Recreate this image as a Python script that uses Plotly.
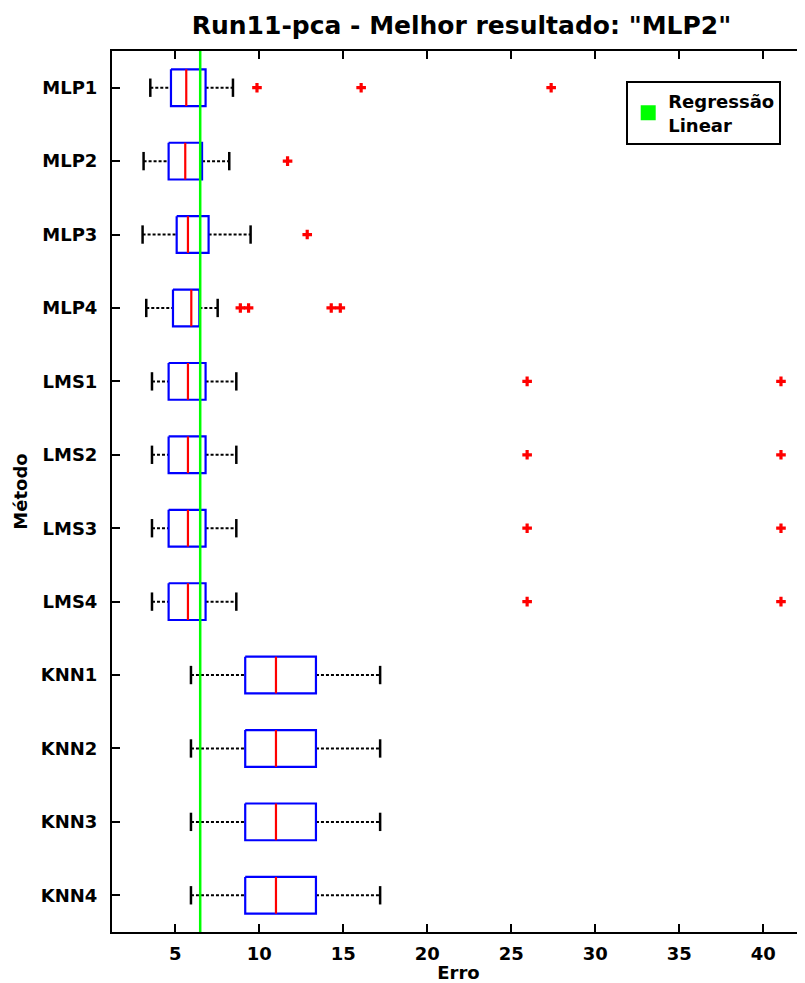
import plotly.graph_objects as go

# ------------------------------------------------------------------
# Data (values of "Erro")
# ------------------------------------------------------------------
methods = ["MLP1", "MLP2", "MLP3", "MLP4",
           "LMS1", "LMS2", "LMS3", "LMS4",
           "KNN1", "KNN2", "KNN3", "KNN4"]

whisker_lo = [3.51, 3.11, 3.05, 3.27, 3.61, 3.61, 3.61, 3.61, 5.93, 5.93, 5.93, 5.93]
q1         = [4.74, 4.60, 5.08, 4.86, 4.60, 4.60, 4.60, 4.60, 9.16, 9.16, 9.16, 9.16]
medians    = [5.65, 5.59, 5.75, 5.95, 5.75, 5.75, 5.75, 5.75, 10.99, 10.99, 10.99, 10.99]
q3         = [6.80, 6.59, 6.98, 6.43, 6.80, 6.80, 6.80, 6.80, 13.37, 13.37, 13.37, 13.37]
whisker_hi = [8.43, 8.21, 9.48, 7.52, 8.63, 8.63, 8.63, 8.63, 17.19, 17.19, 17.19, 17.19]

outliers = [
    [9.86, 16.06, 27.37],
    [11.68],
    [12.85],
    [8.87, 9.36, 14.28, 14.82],
    [25.94, 41.05],
    [25.94, 41.05],
    [25.94, 41.05],
    [25.94, 41.05],
    [], [], [], [],
]

linear_regression_err = 6.48

x_ticks = [5, 10, 15, 20, 25, 30, 35, 40]

# ------------------------------------------------------------------
# Build geometry (in data coordinates) for the MATLAB-style boxes
# ------------------------------------------------------------------
BOX_HALF = 0.25
CAP_HALF = 0.125
positions = list(range(1, len(methods) + 1))

box_x, box_y = [], []
med_x, med_y = [], []
wh_x, wh_y = [], []
cap_x, cap_y = [], []
out_x, out_y = [], []

for i, pos in enumerate(positions):
    # box outline
    box_x += [q1[i], q3[i], q3[i], q1[i], q1[i], None]
    box_y += [pos - BOX_HALF, pos - BOX_HALF, pos + BOX_HALF, pos + BOX_HALF, pos - BOX_HALF, None]
    # median
    med_x += [medians[i], medians[i], None]
    med_y += [pos - BOX_HALF, pos + BOX_HALF, None]
    # whiskers (dotted)
    wh_x += [whisker_lo[i], q1[i], None, q3[i], whisker_hi[i], None]
    wh_y += [pos, pos, None, pos, pos, None]
    # caps
    cap_x += [whisker_lo[i], whisker_lo[i], None, whisker_hi[i], whisker_hi[i], None]
    cap_y += [pos - CAP_HALF, pos + CAP_HALF, None, pos - CAP_HALF, pos + CAP_HALF, None]
    # outliers
    for v in outliers[i]:
        out_x.append(v)
        out_y.append(pos)

fig = go.Figure()

fig.add_trace(go.Scatter(x=wh_x, y=wh_y, mode="lines", showlegend=False, hoverinfo="skip",
                         line=dict(color="black", width=2, dash="3px,2px")))
fig.add_trace(go.Scatter(x=cap_x, y=cap_y, mode="lines", showlegend=False, hoverinfo="skip",
                         line=dict(color="black", width=2.5)))
fig.add_trace(go.Scatter(x=box_x, y=box_y, mode="lines", showlegend=False, hoverinfo="skip",
                         line=dict(color="#0000ff", width=2.2)))
fig.add_trace(go.Scatter(x=med_x, y=med_y, mode="lines", showlegend=False, hoverinfo="skip",
                         line=dict(color="#ff0000", width=2.2)))
fig.add_trace(go.Scatter(x=out_x, y=out_y, mode="markers", showlegend=False,
                         marker=dict(symbol="cross", size=8, color="#ff0000")))

# Linear regression reference line
fig.add_trace(go.Scatter(x=[linear_regression_err, linear_regression_err], y=[0.5, 12.5],
                         mode="lines", showlegend=False, hoverinfo="skip",
                         line=dict(color="#00ff00", width=2.5)))
# legend entry (green patch)
fig.add_trace(go.Scatter(x=[None], y=[None], mode="markers", name="Regressão<br>Linear",
                         marker=dict(symbol="square", size=15, color="#00ff00")))

font_family = "DejaVu Sans"

# page body has an 8px margin, so the paper is sized to end at the window edge
W, H = 797, 975

fig.update_layout(
    width=W, height=H,
    margin=dict(l=104, r=0, t=43, b=51),
    paper_bgcolor="white", plot_bgcolor="white",
    title=dict(text='Run11-pca - Melhor resultado: "MLP2"', x=453.5 / W, xanchor="center",
               y=1 - 17 / H, yanchor="middle",
               font=dict(family=font_family, size=25, weight="bold", color="black")),
    font=dict(family=font_family, size=18, weight="bold", color="black"),
    legend=dict(x=0.742, xanchor="left", y=0.966, yanchor="top",
                bgcolor="white", bordercolor="black", borderwidth=2,
                font=dict(family=font_family, size=18, weight="bold", color="black")),
)

fig.update_xaxes(
    range=[1.23, 42.48],
    tickvals=x_ticks, ticktext=[str(t) for t in x_ticks],
    ticks="inside", ticklen=8, tickwidth=2, tickcolor="black",
    showline=True, linewidth=2, linecolor="black", mirror="ticks",
    showgrid=False, zeroline=False,
    ticklabelstandoff=4,
    title=dict(text="Erro", standoff=2,
               font=dict(family=font_family, size=18, weight="bold", color="black")),
    tickfont=dict(family=font_family, size=18, weight="bold", color="black"),
)
fig.update_yaxes(
    range=[12.5, 0.5],
    tickvals=positions, ticktext=methods,
    ticks="inside", ticklen=8, tickwidth=2, tickcolor="black",
    showline=True, linewidth=2, linecolor="black", mirror=False,
    showgrid=False, zeroline=False,
    ticklabelstandoff=9,
    title=dict(text="Método", standoff=8,
               font=dict(family=font_family, size=18, weight="bold", color="black")),
    tickfont=dict(family=font_family, size=18, weight="bold", color="black"),
)

fig.write_html("out.html")
